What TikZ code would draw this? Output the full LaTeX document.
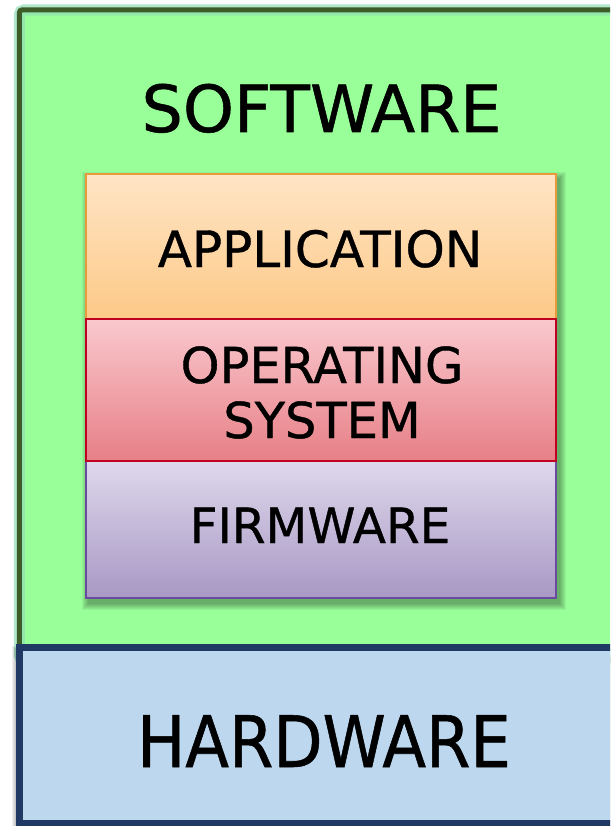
\documentclass[tikz,border=0pt]{standalone}
\usepackage{fontspec}
\setmainfont{DejaVu Sans}
\newfontfamily\lblfont{DejaVu Sans}[FakeBold=0.8]
\usepackage{graphicx}
\definecolor{swfill}{HTML}{99FF99}
\definecolor{swborder}{HTML}{3D5C28}
\definecolor{swglow}{HTML}{8FDDB8}
\definecolor{hwfill}{HTML}{BDD7EE}
\definecolor{hwborder}{HTML}{203864}
\definecolor{apptop}{HTML}{FFE5C6}
\definecolor{appbot}{HTML}{FDC987}
\definecolor{appborder}{HTML}{E89A3C}
\definecolor{ostop}{HTML}{F9C9CE}
\definecolor{osbot}{HTML}{E77F86}
\definecolor{osborder}{HTML}{C00020}
\definecolor{fwtop}{HTML}{DED8EC}
\definecolor{fwbot}{HTML}{A898C4}
\definecolor{fwborder}{HTML}{6A4A9E}
\tikzset{
  lbl/.style={anchor=base, inner sep=0pt, text=black, font=\lblfont},
  layerbox/.style={rectangle, inner sep=0pt, minimum width=470pt, line width=1.6pt},
}
\begin{document}
\begin{tikzpicture}[x=1pt,y=-1pt]
\useasboundingbox (0,0) rectangle (610,826);
\clip (0,0) rectangle (610,826);
\fill[white] (0,0) rectangle (610,826);
% software box
\node[rectangle, inner sep=0pt, minimum width=630pt, minimum height=650pt,
      fill=swfill] (software) at (334.5,335) {};
\draw[swglow, opacity=0.7, line width=11pt, rounded corners=5pt]
  (software.north west) rectangle (software.south east);
\draw[swborder, line width=5pt, rounded corners=3pt]
  (software.north west) rectangle (software.south east);
% shadow of the layer stack
\foreach \s in {1,...,7}
  \fill[black, opacity=0.05] (89-\s,179-\s) rectangle (559+\s,603+\s);
% layers
\node[layerbox, minimum height=145pt, top color=apptop, bottom color=appbot,
      draw=appborder] (app) at (321,246.5) {};
\node[layerbox, minimum height=137pt, top color=fwtop, bottom color=fwbot,
      draw=fwborder] (fw) at (321,529.5) {};
\node[layerbox, minimum height=142pt, top color=ostop, bottom color=osbot,
      draw=osborder] (os) at (321,390) {};
% hardware box
\foreach \s in {1,...,4}
  \fill[black, opacity=0.06] (16-\s,650-\s) rectangle (640,826+\s);
\node[rectangle, inner sep=0pt, minimum width=631pt, minimum height=176pt,
      fill=hwfill, draw=hwborder, line width=7pt] (hardware) at (334.5,735.5) {};
% labels
\node[lbl] (swlabel) at (321.5,132) {\fontsize{65}{65}\selectfont SOFTWARE};
\node[lbl] (applabel) at (320,267) {\fontsize{50}{50}\selectfont APPLICATION};
\node[lbl] (oslabelA) at (322,383) {\fontsize{49.5}{50}\selectfont OPERATING};
\node[lbl] (oslabelB) at (322,438) {\fontsize{49.5}{50}\selectfont SYSTEM};
\node[lbl] (fwlabel) at (320,543) {\fontsize{48.5}{50}\selectfont FIRMWARE};
\node[lbl] (hwlabel) at (324,767) {\scalebox{0.9}[1]{\fontsize{71}{71}\selectfont HARDWARE}};
\end{tikzpicture}
\end{document}
